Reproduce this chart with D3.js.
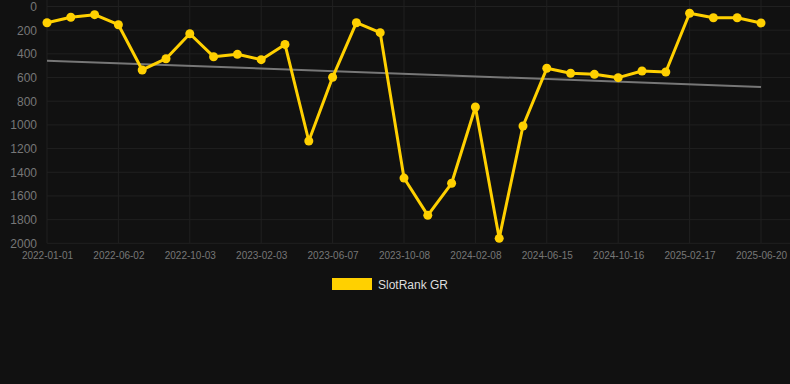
<!DOCTYPE html>
<html><head><meta charset="utf-8">
<script src="https://cdn.jsdelivr.net/npm/d3@7"></script>
<style>html,body{margin:0;padding:0;background:#111111;}svg{display:block;}</style>
</head><body><svg id="c" width="790" height="384"></svg>
<script>
const dates = ["2022-01-01","2022-02-20","2022-04-11","2022-06-02","2022-07-13","2022-08-23","2022-10-03","2022-11-13","2022-12-24","2023-02-03","2023-03-16","2023-04-27","2023-06-07","2023-07-18","2023-08-28","2023-10-08","2023-11-18","2023-12-29","2024-02-08","2024-03-20","2024-05-05","2024-06-15","2024-07-26","2024-09-05","2024-10-16","2024-11-26","2025-01-06","2025-02-17","2025-03-30","2025-05-10","2025-06-20"];
const ranks = [137,91,69,154,536,441,230,424,404,449,320,1136,598,137,221,1449,1764,1493,849,1958,1009,522,564,573,601,545,553,57,95,95,139];
const yTicks = [0,200,400,600,800,1000,1200,1400,1600,1800,2000];
const seriesName = "SlotRank GR";

const svg = d3.select("#c");
const x = d3.scalePoint().domain(dates).range([47, 761]);
const y = d3.scaleLinear().domain([0, 2000]).range([6.5, 243.3]);

// grid
const g = svg.append("g");
g.selectAll("line.h").data(yTicks).join("line")
  .attr("x1", 47).attr("x2", 790)
  .attr("y1", d => y(d)).attr("y2", d => y(d))
  .attr("stroke", "#202020").attr("stroke-width", 1);
const xTickVals = dates.filter((d, i) => i % 3 === 0);
g.selectAll("line.v").data(xTickVals).join("line")
  .attr("x1", d => x(d)).attr("x2", d => x(d))
  .attr("y1", 0).attr("y2", y(2000))
  .attr("stroke", "#202020").attr("stroke-width", 1);

// y axis labels
const yAxis = d3.axisLeft(y).tickValues(yTicks).tickFormat(d3.format("d")).tickSize(0).tickPadding(0);
svg.append("g").attr("transform", "translate(37,0)").call(yAxis)
  .call(s => s.select(".domain").remove())
  .selectAll("text").attr("fill", "#777").style("font-family", "Arial, 'Liberation Sans', sans-serif").style("font-size", "12px");

// x axis labels
const xAxis = d3.axisBottom(x).tickValues(xTickVals).tickSize(0).tickPadding(0);
svg.append("g").attr("transform", "translate(0,252)").call(xAxis)
  .call(s => s.select(".domain").remove())
  .selectAll("text").attr("fill", "#777").style("font-family", "Arial, 'Liberation Sans', sans-serif").style("font-size", "10px");

// trend (linear regression over index)
const n = ranks.length;
const mi = d3.mean(ranks, (d, i) => i), mv = d3.mean(ranks);
const slope = d3.sum(ranks, (d, i) => (i - mi) * (d - mv)) / d3.sum(ranks, (d, i) => (i - mi) * (i - mi));
const icpt = mv - slope * mi;
svg.append("line")
  .attr("x1", x(dates[0])).attr("y1", y(icpt))
  .attr("x2", x(dates[n - 1])).attr("y2", y(icpt + slope * (n - 1)))
  .attr("stroke", "#777").attr("stroke-width", 2);

// line
const data = dates.map((d, i) => ({d, v: ranks[i]}));
svg.append("path").datum(data)
  .attr("fill", "none").attr("stroke", "#FFD000").attr("stroke-width", 3)
  .attr("stroke-linejoin", "round")
  .attr("d", d3.line().x(p => x(p.d)).y(p => y(p.v)));
svg.append("g").selectAll("circle").data(data).join("circle")
  .attr("cx", p => x(p.d)).attr("cy", p => y(p.v)).attr("r", 4.5)
  .attr("fill", "#FFD000");

// legend
svg.append("rect").attr("x", 332).attr("y", 278).attr("width", 40).attr("height", 12).attr("fill", "#FFD000");
svg.append("text").attr("x", 378).attr("y", 289).text(seriesName)
  .attr("fill", "#ddd").style("font-family", "Arial, 'Liberation Sans', sans-serif").style("font-size", "12px");
</script></body></html>
